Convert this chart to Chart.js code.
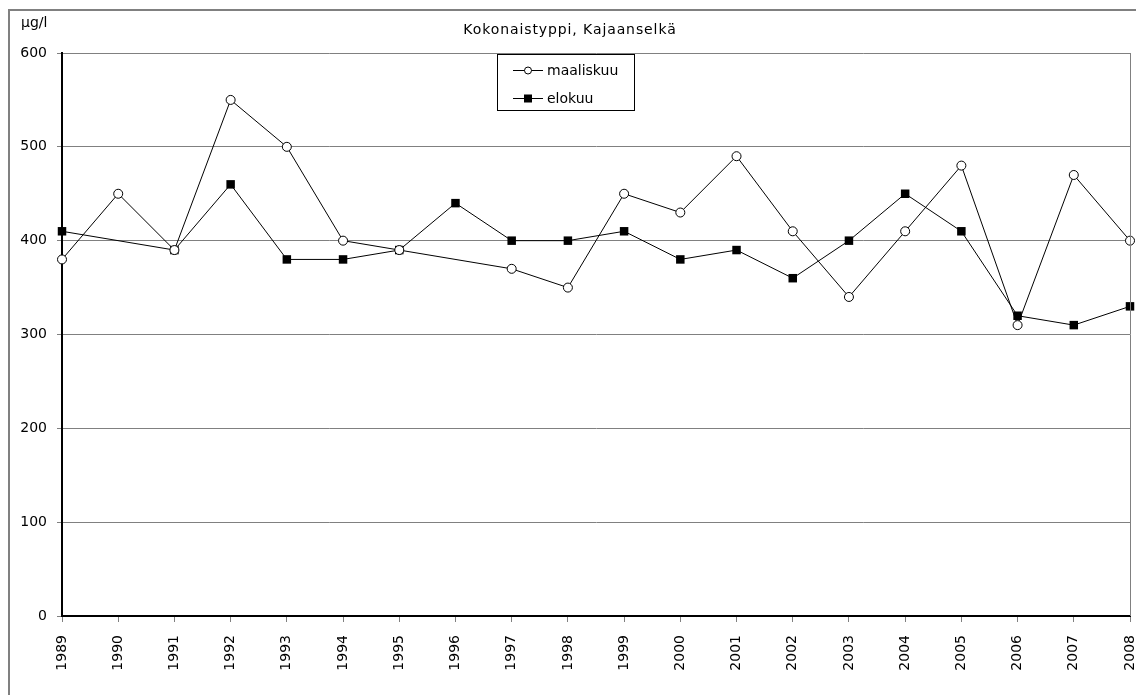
<!DOCTYPE html>
<html>
<head>
<meta charset="utf-8">
<script src="https://cdn.jsdelivr.net/npm/chart.js@4/dist/chart.umd.min.js"></script>
<style>
html,body{margin:0;padding:0;background:#fff;}
#wrap{width:1136px;height:695px;position:relative;}
</style>
</head>
<body>
<div id="wrap"><canvas id="c" width="1136" height="695"></canvas></div>
<script>
const years = ['1989','1990','1991','1992','1993','1994','1995','1996','1997','1998','1999','2000','2001','2002','2003','2004','2005','2006','2007','2008'];
const maaliskuu = [380,450,390,550,500,400,390,null,370,350,450,430,490,410,340,410,480,310,470,400];
const elokuu = [410,null,390,460,380,380,390,440,400,400,410,380,390,360,400,450,410,320,310,330];
const yTicks = [0,100,200,300,400,500,600];
const titleText = 'Kokonaistyppi, Kajaanselkä';
const unitText = 'µg/l';
const FONT = 'Verdana, "DejaVu Sans", sans-serif';

const decor = {
  id:'decor',
  beforeDraw(chart){
    const ctx = chart.ctx;
    ctx.save();
    ctx.fillStyle='#fff';
    ctx.fillRect(0,0,chart.width,chart.height);
    ctx.strokeStyle='#808080';
    ctx.lineWidth=2;
    ctx.strokeRect(9,10,1300,900);
    ctx.restore();
  },
  afterDraw(chart){
    const ctx = chart.ctx;
    const a = chart.chartArea;
    ctx.save();
    ctx.strokeStyle='#808080';
    ctx.lineWidth=1;
    ctx.beginPath();
    ctx.moveTo(Math.round(a.right)+0.5,a.top);
    ctx.lineTo(Math.round(a.right)+0.5,a.bottom);
    ctx.stroke();
    ctx.fillStyle='#000';
    ctx.font='14px '+FONT;
    ctx.textBaseline='middle';
    ctx.textAlign='center';
    try{ctx.letterSpacing='0.9px';}catch(e){}
    ctx.fillText(titleText,570,30);
    try{ctx.letterSpacing='0px';}catch(e){}
    ctx.textAlign='left';
    ctx.fillText(unitText,21,23);
    // legend
    ctx.fillStyle='#fff';
    ctx.fillRect(497,54,137,56);
    ctx.strokeStyle='#000';
    ctx.lineWidth=1;
    ctx.strokeRect(497.5,54.5,137,56);
    const ds = chart.data.datasets;
    const rows=[70,98];
    ds.forEach((d,i)=>{
      const y=rows[i];
      ctx.beginPath();
      ctx.moveTo(513,y+0.5);ctx.lineTo(543,y+0.5);
      ctx.strokeStyle='#000';ctx.lineWidth=1;ctx.stroke();
      if(i===0){
        ctx.beginPath();ctx.arc(528,y+0.5,3.5,0,Math.PI*2);
        ctx.fillStyle='#fff';ctx.fill();ctx.stroke();
      }else{
        ctx.fillStyle='#000';ctx.fillRect(524,y-3.5,8,8);
      }
      ctx.fillStyle='#000';
      ctx.font='14px '+FONT;
      ctx.textAlign='left';ctx.textBaseline='middle';
      ctx.fillText(d.label,547,y+1);
    });
    ctx.restore();
  }
};

new Chart(document.getElementById('c'),{
  type:'line',
  data:{
    labels:years,
    datasets:[
      {label:'maaliskuu',data:maaliskuu,borderColor:'#000',borderWidth:1,backgroundColor:'#fff',
       pointStyle:'circle',pointRadius:4.5,pointBorderWidth:1,pointBackgroundColor:'#fff',pointBorderColor:'#000',
       spanGaps:true,tension:0},
      {label:'elokuu',data:elokuu,borderColor:'#000',borderWidth:1,backgroundColor:'#000',
       pointStyle:'rect',pointRadius:6,pointBorderWidth:0,pointBackgroundColor:'#000',pointBorderColor:'#000',
       spanGaps:true,tension:0}
    ]
  },
  options:{
    responsive:false,
    animation:false,
    devicePixelRatio:1,
    clip:false,
    layout:{padding:{top:53,right:2,left:0,bottom:0}},
    plugins:{legend:{display:false},tooltip:{enabled:false},title:{display:false}},
    scales:{
      x:{
        type:'category',
        offset:false,
        grid:{display:true,drawOnChartArea:false,drawTicks:true,tickLength:6,color:'#808080',lineWidth:1},
        border:{display:true,color:'#000',width:2},
        ticks:{minRotation:90,maxRotation:90,autoSkip:false,color:'#000',font:{family:FONT,size:14},padding:13},
        afterFit(s){s.height=79;s.paddingLeft=0;s.paddingRight=0;}
      },
      y:{
        min:0,max:600,
        afterBuildTicks(s){s.ticks=yTicks.map(v=>({value:v}));},
        grid:{color:'#808080',lineWidth:1,tickLength:5,drawTicks:true},
        border:{display:true,color:'#000',width:2},
        ticks:{color:'#000',font:{family:FONT,size:14},padding:10},
        afterFit(s){s.width=62;s.paddingTop=0;s.paddingBottom=0;}
      }
    }
  },
  plugins:[decor]
});
</script>
</body>
</html>
